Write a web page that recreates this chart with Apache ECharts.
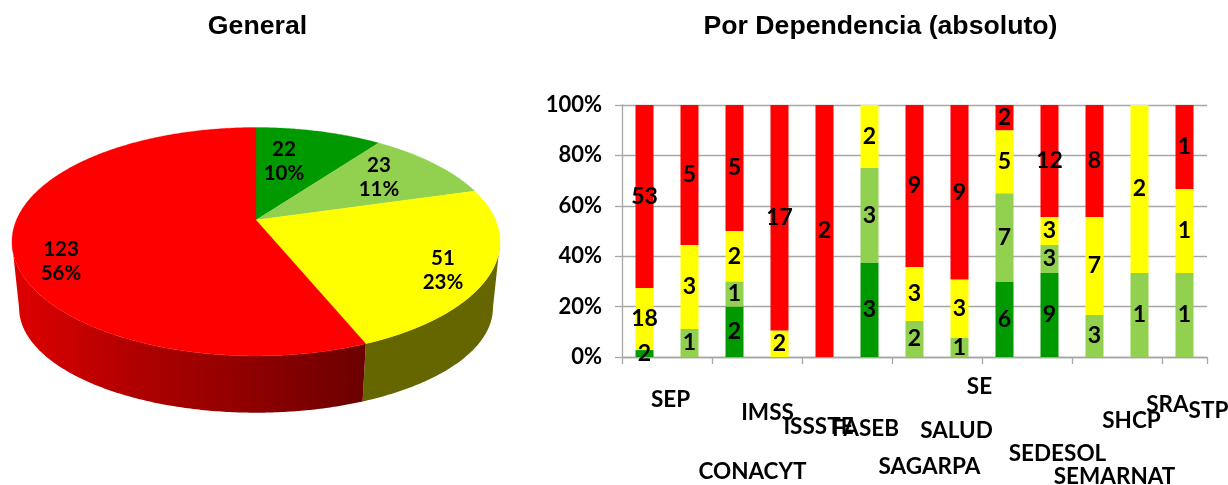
<!DOCTYPE html>
<html>
<head>
<meta charset="utf-8">
<style>html,body{margin:0;padding:0;background:#fff}#c{width:1228px;height:485px}</style>
<script src="https://cdn.jsdelivr.net/npm/echarts@6/dist/echarts.min.js"></script>
</head>
<body>
<div id="c"></div>
<script>
// ---- data ----
const categories = ['SEP','CONACYT','IMSS','ISSSTE','FASEB','SAGARPA','SALUD','SE','SEDESOL','SEMARNAT','SHCP','SRA','STP'];
const darkGreen  = [2,0,2,0,0,3,0,0,6,9,0,0,0];
const lightGreen = [0,1,1,0,0,3,2,1,7,3,3,1,1];
const yellow     = [18,3,2,2,0,2,3,3,5,3,7,2,1];
const red        = [53,5,5,17,2,0,9,9,2,12,8,0,1];
const pieValues  = [22,23,51,123];
const piePercent = ['10%','11%','23%','56%'];
const yTicks = [0,20,40,60,80,100];

// ---- styling / layout ----
const FONT = 'Lato';
const COL = {dark:'#009900', light:'#92D050', yellow:'#FFFF00', red:'#FF0000'};
const pieColors = [COL.dark, COL.light, COL.yellow, COL.red];
const labelOffsetX = [26,63,33,39,41,60,42,20,53,65,37,28,24];
const labelY = [400,472,413,427,429,467,431,387,454,477,421,405,411];
const pieLabelPos = [[284,161],[379,177],[443,270],[61,261]];
const TOP = {x:256, y0:220, a:239.6, b:110.1}, BOT = {x:256, y0:288, a:232.6, b:101}, K = 0.19;

function proj(p, t, r){
  const u = Math.sin(t)*r, v = Math.cos(t)*r, w = 1 + K*v;
  return [p.x + p.a*u/w, p.y0 - p.b*v/w];
}
function rim(p, t0, t1){
  const n = Math.max(2, Math.ceil((t1-t0)/0.01)), out = [];
  for(let i=0;i<=n;i++) out.push(proj(p, t0+(t1-t0)*i/n, 1));
  return out;
}
const pieTotal = pieValues.reduce((a,b)=>a+b,0);
const VIS0 = 101*Math.PI/180, VIS1 = 259*Math.PI/180;

function renderPie(params, api){
  const i = params.dataIndex;
  let start = 0;
  for(let k=0;k<i;k++) start += pieValues[k];
  const t0 = start/pieTotal*2*Math.PI, t1 = (start+pieValues[i])/pieTotal*2*Math.PI;
  const children = [];
  const s0 = Math.max(t0, VIS0), s1 = Math.min(t1, VIS1);
  if(s1 > s0){
    const pts = rim(TOP, s0, s1).concat(rim(BOT, s0, s1).reverse());
    const fill = i === 3
      ? new echarts.graphic.LinearGradient(20,0,363,0,[
          {offset:0,color:'#DC0000'},{offset:0.35,color:'#AE0000'},{offset:0.7,color:'#8C0000'},{offset:1,color:'#6C0000'}],true)
      : '#666600';
    children.push({type:'polygon', z2:1, shape:{points:pts}, style:{fill:fill}});
  }
  children.push({type:'polygon', z2:5, shape:{points:[proj(TOP,0,0)].concat(rim(TOP,t0,t1))},
    style:{fill:pieColors[i], stroke:pieColors[i], lineWidth:0.3}});
  children.push({type:'text', z2:10, x:pieLabelPos[i][0], y:pieLabelPos[i][1],
    style:{text:pieValues[i]+'\n'+piePercent[i], fill:'#000', align:'center', verticalAlign:'middle',
      font:'bold 20.5px '+FONT, lineHeight:24}});
  return {type:'group', children:children};
}

function total(i){return darkGreen[i]+lightGreen[i]+yellow[i]+red[i];}
function barSeries(name, arr, color){
  return {
    name:name, type:'bar', stack:'s', barWidth:18, itemStyle:{color:color},
    data: arr.map((v,i)=> v/total(i)*100),
    label:{show:true, position:'inside', color:'#000', fontFamily:FONT, fontWeight:'bold', fontSize:23,
      formatter:p=> arr[p.dataIndex] ? String(arr[p.dataIndex]) : ''},
    silent:true, z:3
  };
}

const chart = echarts.init(document.getElementById('c'), null, {renderer:'canvas'});
chart.setOption({
  animation:false,
  backgroundColor:'#fff',
  title:[
    {text:'General', left:252.5, top:8, textAlign:'center',
      textStyle:{fontFamily:'Liberation Sans', fontWeight:'bold', fontSize:26.67, color:'#000'}},
    {text:'Por Dependencia (absoluto)', left:875.5, top:8, textAlign:'center',
      textStyle:{fontFamily:'Liberation Sans', fontWeight:'bold', fontSize:26.67, color:'#000'}}
  ],
  grid:{left:622, right:21, top:105, height:252, containLabel:false},
  xAxis:{type:'category', data:categories, boundaryGap:true,
    axisLine:{show:true, onZero:false, lineStyle:{color:'#A6A6A6', width:1.3}},
    axisTick:{show:true, length:7, alignWithLabel:false, lineStyle:{color:'#A6A6A6', width:1.3}},
    axisLabel:{show:false}, splitLine:{show:false}},
  yAxis:{type:'value', min:yTicks[0], max:yTicks[yTicks.length-1], interval:20,
    axisLine:{show:true, lineStyle:{color:'#A6A6A6', width:1.3}},
    axisTick:{show:true, length:7, lineStyle:{color:'#A6A6A6', width:1.3}},
    axisLabel:{margin:20, color:'#000', fontFamily:FONT, fontWeight:'bold', fontSize:22, formatter:'{value}%'},
    splitLine:{show:true, lineStyle:{color:'#A6A6A6', width:1.3}}},
  series:[
    barSeries('Verde', darkGreen, COL.dark),
    barSeries('Verde claro', lightGreen, COL.light),
    barSeries('Amarillo', yellow, COL.yellow),
    barSeries('Rojo', red, COL.red),
    {type:'custom', coordinateSystem:'none', silent:true, data:pieValues, renderItem:renderPie, z:2},
    {type:'custom', silent:true, clip:false, z:4,
      data:categories.map((c,i)=>[i,0]),
      encode:{x:0,y:1},
      renderItem:function(params, api){
        const i = params.dataIndex, pt = api.coord([api.value(0),0]);
        return {type:'text', x:pt[0]+labelOffsetX[i], y:labelY[i],
          style:{text:categories[i], fill:'#000', align:'center', verticalAlign:'middle',
            font:'bold 22.5px '+FONT}};
      }}
  ]
});
</script>
</body>
</html>
